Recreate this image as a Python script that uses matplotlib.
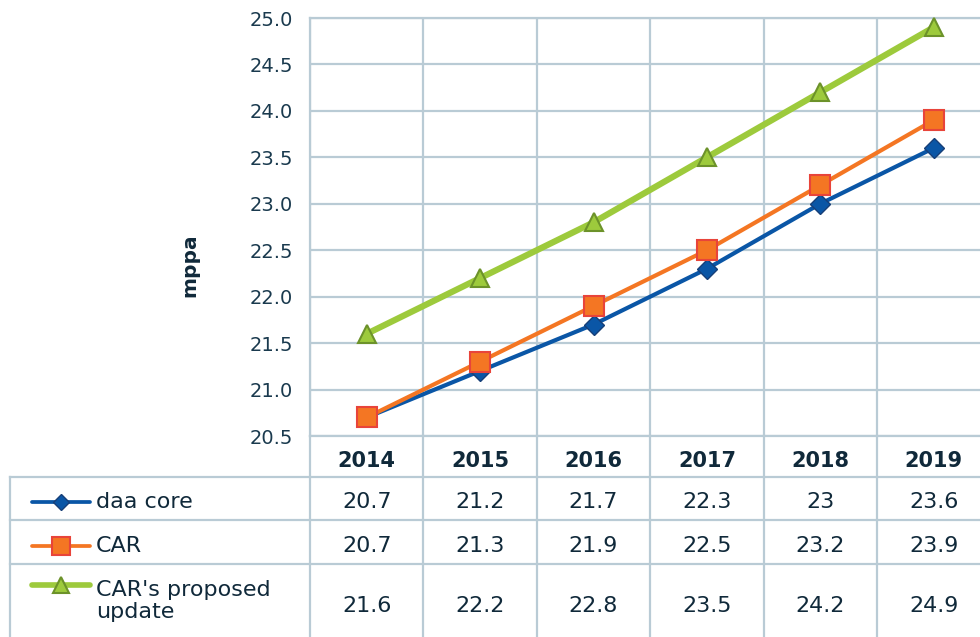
import numpy as np
import matplotlib
matplotlib.use('Agg')
import matplotlib.pyplot as plt

# Data
years = ['2014', '2015', '2016', '2017', '2018', '2019']
daa_core = [20.7, 21.2, 21.7, 22.3, 23.0, 23.6]
car = [20.7, 21.3, 21.9, 22.5, 23.2, 23.9]
car_update = [21.6, 22.2, 22.8, 23.5, 24.2, 24.9]
series_names = ['daa core', 'CAR', "CAR's proposed\nupdate"]

plt.rcParams['font.family'] = ['DejaVu Sans']
txt = '#10293a'
grid = '#b9cbd5'

W, H = 980, 637
fig = plt.figure(figsize=(W / 100, H / 100), dpi=100)

# column geometry (pixels)
x0, colw = 310, 113.4
y_top, y_bot = 18, 436
x = np.arange(len(years))

ax = fig.add_axes([x0 / W, 1 - y_bot / H, 6 * colw / W, (y_bot - y_top) / H])
ax.set_xlim(-0.5, 5.5)
ax.set_ylim(20.5, 25.0)
yt = np.arange(20.5, 25.01, 0.5)
ax.set_yticks(yt)
ax.set_yticklabels([f'{v:.1f}' for v in yt], fontsize=14, color='#1a3a4e')
ax.set_xticks(np.arange(-0.5, 5.6, 1.0))
ax.set_xticklabels([])
ax.tick_params(length=0, pad=12)
ax.grid(True, color=grid, lw=1.6)
for s in ax.spines.values():
    s.set_color(grid)
    s.set_linewidth(1.6)

styles = [
    dict(color='#0a56a6', lw=3, marker='D', ms=10, mfc='#0a56a6', mec='#173f78', mew=1),
    dict(color='#f47623', lw=3, marker='s', ms=15, mfc='#f47623', mec='#e8443a', mew=1.5),
    dict(color='#9dca3c', lw=4.5, marker='^', ms=13, mfc='#9dca3c', mec='#6c922a', mew=1.5),
]
for vals, st in zip([daa_core, car, car_update], styles):
    ax.plot(x, vals, clip_on=False, zorder=3, **st)

fig.text(190 / W, 1 - 265 / H, 'mppa', rotation=90, fontsize=14.5, fontweight='bold',
         color=txt, ha='center', va='center')

# Data table below the chart
tb = fig.add_axes([0, 0, 1, 1])
tb.set_xlim(0, W)
tb.set_ylim(H, 0)
tb.axis('off')

col_edges = [x0 + i * colw for i in range(len(years) + 1)]
row_lines = [477, 520, 564]
for xe in col_edges:
    tb.plot([xe, xe], [y_bot, H + 20], color=grid, lw=1.6)
tb.plot([10, 10], [477, H + 20], color=grid, lw=1.6)
for yl in row_lines:
    tb.plot([10, W + 20], [yl, yl], color=grid, lw=1.6)

centers = [x0 + (i + 0.5) * colw for i in range(len(years))]
for cx, yr in zip(centers, years):
    tb.text(cx, 461, yr, ha='center', va='center', fontsize=15, fontweight='bold', color=txt)

row_y = [502, 546, 606]
key_y = [502, 546, 585]
name_y = [502, 546, 601]
for vals, st, name, ry, ky, ny in zip([daa_core, car, car_update], styles, series_names,
                                      row_y, key_y, name_y):
    for cx, v in zip(centers, vals):
        tb.text(cx, ry, f'{v:g}', ha='center', va='center', fontsize=16, color=txt)
    tb.plot([32, 90], [ky, ky], color=st['color'], lw=st['lw'] * 0.9, solid_capstyle='round')
    tb.plot([61], [ky], marker=st['marker'], ms=st['ms'] * 0.85, mfc=st['mfc'],
            mec=st['mec'], mew=st['mew'])
    tb.text(96, ny, name, ha='left', va='center', fontsize=16, color=txt, linespacing=1.12)

fig.savefig('out.png', dpi=100)
